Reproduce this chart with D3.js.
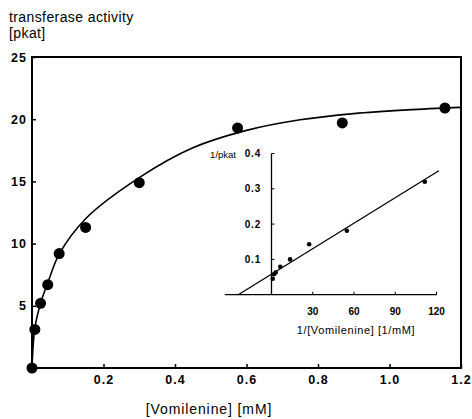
<!DOCTYPE html>
<html>
<head>
<meta charset="utf-8">
<script src="https://cdn.jsdelivr.net/npm/d3@7"></script>
<style>
  body { margin: 0; background: #fff; }
  text { font-family: "Liberation Sans", Arial, sans-serif; fill: #000; }
</style>
</head>
<body>
<svg id="chart" width="472" height="419"></svg>
<script>
// main plot: measured points
var conc = [0, 0.008, 0.024, 0.044, 0.076, 0.15, 0.30, 0.575, 0.868, 1.155];
var activity = [0, 3.1, 5.2, 6.7, 9.2, 11.3, 14.9, 19.3, 19.7, 20.9];

// saturation curve
var curveConc = [0, 0.008, 0.025, 0.045, 0.075, 0.15, 0.3, 0.45, 0.6, 0.75, 0.9, 1.05, 1.2];
var curveAct = [0, 3.2, 5.3, 6.9, 9.1, 12.0, 15.3, 17.7, 19.1, 19.95, 20.45, 20.75, 20.95];

var xTicks = [0.2, 0.4, 0.6, 0.8, 1.0, 1.2];
var yTicks = [5, 10, 15, 20, 25];

// inset: double reciprocal plot
var invConc = [0.9, 1.8, 3.0, 6.4, 13.5, 27.4, 54.8, 111.5];
var invAct = [0.045, 0.058, 0.063, 0.079, 0.1, 0.143, 0.181, 0.32];
var lineInvConc = [-24.2, 121.7];
var lineInvAct = [0, 0.351];

var insetXTicks = [30, 60, 90, 120];
var insetYTicks = [0.1, 0.2, 0.3, 0.4];

var svg = d3.select("#chart");
svg.append("rect").attr("width", 472).attr("height", 419).attr("fill", "#fff");

// scales
var x = d3.scaleLinear().domain([0, 1.2]).range([32, 461]);
var y = d3.scaleLinear().domain([0, 25]).range([368, 57]);

var ix = d3.scaleLinear().domain([-34, 120]).range([224.75, 436.5]);
var iy = d3.scaleLinear().domain([0, 0.4]).range([294.7, 153.5]);

// frame
svg.append("rect")
  .attr("x", x(0)).attr("y", y(25))
  .attr("width", x(1.2) - x(0)).attr("height", y(0) - y(25))
  .attr("fill", "none").attr("stroke", "#000").attr("stroke-width", 2);

// axes
var xAxis = svg.append("g")
  .attr("transform", "translate(0," + y(0) + ")")
  .call(d3.axisBottom(x).tickValues(xTicks).tickSize(-4).tickPadding(7).tickFormat(d3.format(".1f")));
var yAxis = svg.append("g")
  .attr("transform", "translate(" + x(0) + ",0)")
  .call(d3.axisLeft(y).tickValues(yTicks).tickSize(-4).tickPadding(5).tickFormat(d3.format("d")));

[xAxis, yAxis].forEach(function (g) {
  g.select(".domain").remove();
  g.selectAll("line").attr("stroke", "#000").attr("stroke-width", 1.5);
  g.selectAll("text")
    .attr("font-family", "Liberation Sans, Arial, sans-serif")
    .attr("font-size", 12.5).attr("font-weight", "bold")
    .attr("letter-spacing", 1);
});

// curve
var line = d3.line()
  .x(function (d, i) { return x(curveConc[i]); })
  .y(function (d, i) { return y(curveAct[i]); })
  .curve(d3.curveCatmullRom.alpha(0.5));
svg.append("path")
  .datum(curveConc)
  .attr("d", line)
  .attr("fill", "none").attr("stroke", "#000").attr("stroke-width", 1.6);

// points
svg.append("g").selectAll("circle")
  .data(conc)
  .enter().append("circle")
  .attr("cx", function (d) { return x(d); })
  .attr("cy", function (d, i) { return y(activity[i]); })
  .attr("r", 5.5)
  .attr("fill", "#000");

// axis titles
svg.append("text").attr("x", 9).attr("y", 22)
  .attr("font-size", 14).attr("letter-spacing", 0.4).text("transferase activity");
svg.append("text").attr("x", 9).attr("y", 38)
  .attr("font-size", 14).attr("letter-spacing", 0.4).text("[pkat]");
svg.append("text").attr("x", 209).attr("y", 414)
  .attr("text-anchor", "middle").attr("font-size", 14).attr("letter-spacing", 0.9)
  .text("[Vomilenine] [mM]");

// ---- inset ----
var inset = svg.append("g");

inset.append("line")
  .attr("x1", ix(-34)).attr("x2", ix(120))
  .attr("y1", iy(0)).attr("y2", iy(0))
  .attr("stroke", "#000").attr("stroke-width", 1.3);
inset.append("line")
  .attr("x1", ix(0)).attr("x2", ix(0))
  .attr("y1", iy(0)).attr("y2", iy(0.4))
  .attr("stroke", "#000").attr("stroke-width", 1.3);

// inset ticks
inset.selectAll(".ixt")
  .data(insetXTicks).enter().append("line")
  .attr("x1", function (d) { return ix(d); }).attr("x2", function (d) { return ix(d); })
  .attr("y1", iy(0)).attr("y2", iy(0) - 3)
  .attr("stroke", "#000").attr("stroke-width", 1);
inset.selectAll(".ixl")
  .data(insetXTicks).enter().append("text")
  .attr("x", function (d) { return ix(d); }).attr("y", 315)
  .attr("text-anchor", "middle").attr("font-size", 10).attr("font-weight", "bold")
  .text(function (d) { return d; });

inset.selectAll(".iyt")
  .data(insetYTicks).enter().append("line")
  .attr("x1", ix(0)).attr("x2", ix(0) + 3)
  .attr("y1", function (d) { return iy(d); }).attr("y2", function (d) { return iy(d); })
  .attr("stroke", "#000").attr("stroke-width", 1);
inset.selectAll(".iyl")
  .data(insetYTicks).enter().append("text")
  .attr("x", 261).attr("y", function (d) { return iy(d); }).attr("dy", "0.35em")
  .attr("text-anchor", "end").attr("font-size", 10).attr("font-weight", "bold")
  .attr("letter-spacing", 0.8)
  .text(function (d) { return d.toFixed(1); });

inset.append("text").attr("x", 236).attr("y", 157.5)
  .attr("text-anchor", "end").attr("font-size", 9.5).text("1/pkat");
inset.append("text").attr("x", 356).attr("y", 334)
  .attr("text-anchor", "middle").attr("font-size", 11).attr("letter-spacing", 0.6)
  .text("1/[Vomilenine] [1/mM]");

// regression line
inset.append("line")
  .attr("x1", ix(lineInvConc[0])).attr("y1", iy(lineInvAct[0]))
  .attr("x2", ix(lineInvConc[1])).attr("y2", iy(lineInvAct[1]))
  .attr("stroke", "#000").attr("stroke-width", 1.3);

inset.selectAll("circle")
  .data(invConc).enter().append("circle")
  .attr("cx", function (d) { return ix(d); })
  .attr("cy", function (d, i) { return iy(invAct[i]); })
  .attr("r", 2.3)
  .attr("fill", "#000");
</script>
</body>
</html>
